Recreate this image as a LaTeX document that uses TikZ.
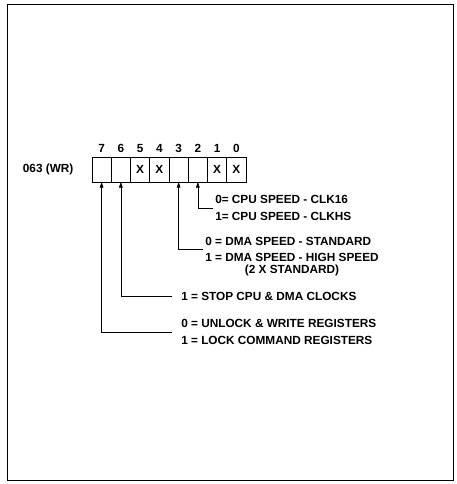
\documentclass[tikz,border=0pt]{standalone}
\usepackage{fontspec}
\setmainfont{Liberation Sans}
\usetikzlibrary{arrows.meta,positioning}

\begin{document}
\begin{tikzpicture}[x=1pt,y=-1pt,line width=0.5pt,
    font=\bfseries\fontsize{11.8}{16.8}\selectfont]
  \tikzset{
    bitcell/.style={draw,minimum width=19.25pt,minimum height=25pt,inner sep=0pt,outer sep=0pt},
    bitnum/.style={inner sep=0pt},
    desc/.style={anchor=west,align=left,inner xsep=2pt,inner ysep=1pt},
    hook/.style={line width=0.45pt,-{Triangle[width=3.6pt,length=5.5pt]}}
  }
  \useasboundingbox (0,0) rectangle (456,484);
  \draw[line width=1.6pt] (7.5,4.5) rectangle (453.5,480.5);

  % register cells, bit 7 on the left
  \foreach \b/\bx [count=\i from 0] in {7/,6/,5/X,4/X,3/,2/,1/X,0/X}{
    \node[bitcell] (c\b) at ({101.6+19.25*\i},169.5) {\bx};
    \node[bitnum,above=4.5pt of c\b] (n\b) {\b};
  }
  \node[left=15pt of c7] (reg) {063 (WR)};

  % bit descriptions
  \node[desc] (cpu) at (213,208) {0= CPU SPEED - CLK16\\1= CPU SPEED - CLKHS};
  \node[desc] (dma) at (203,249.5) {0 = DMA SPEED - STANDARD\\1 = DMA SPEED - HIGH SPEED};
  \node (dmax) at (dma.south |- 0,270) {(2 X STANDARD)};
  \node[desc,inner xsep=9pt] (stop) at (172,296) {1 = STOP CPU \& DMA CLOCKS};
  \node[desc,inner xsep=9pt] (lock) at (172,332) {0 = UNLOCK \& WRITE REGISTERS\\1 = LOCK COMMAND REGISTERS};

  \draw[hook] (cpu.west) -| (c2.south);
  \draw[hook] (dma.west) -| (c3.south);
  \draw[hook] (stop.west) -| (c6.south);
  \draw[hook] (lock.west) -| (c7.south);
\end{tikzpicture}
\end{document}
